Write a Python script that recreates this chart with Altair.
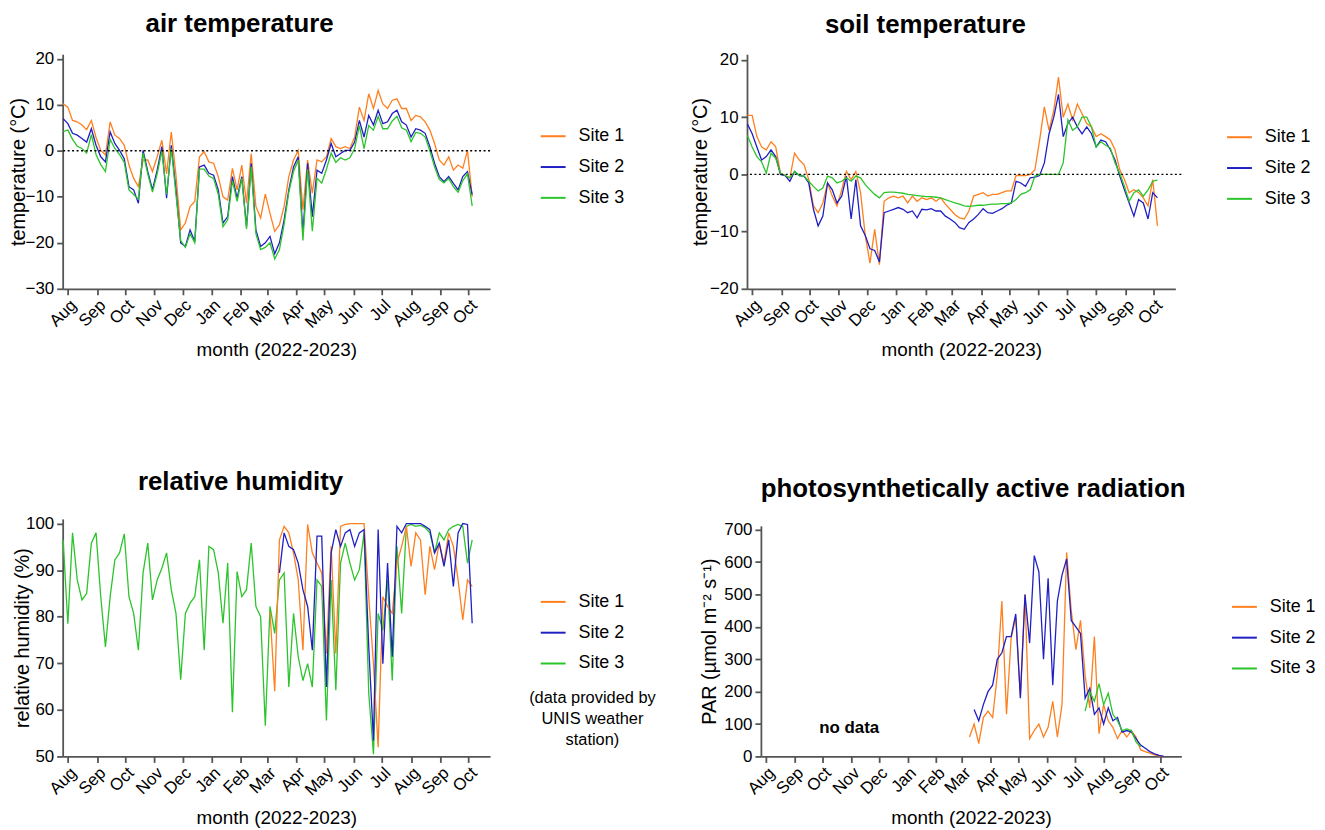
import altair as alt
import pandas as pd

SITES = ["Site 1", "Site 2", "Site 3"]
SITE_COLORS = ["#FF7F1E", "#1F1FC4", "#2BC42B"]

# one reading every 5 days, the first one on 27 Jul 2022 (88 readings, last on 5 Oct 2023)
FIRST_DAY = "2022-07-27"
N_READINGS = 88

# air temperature (°C)
AIR_SITE1 = [10.2, 9.5, 6.6, 6.3, 5.6, 4.6, 6.6, 2.9, 0.1, -0.9,
             6.3, 3.4, 2.7, 1.2, -3.1, -6.0, -7.8, -2.0, -2.0, -4.5,
             -1.3, 2.3, -5.0, 4.1, -5.3, -17.2, -15.7, -12.1, -11.0, -1.3,
             -0.2, -2.4, -2.7, -5.6, -10.0, -10.7, -3.8, -8.5, -3.1, -11.4,
             -0.6, -12.1, -14.6, -9.4, -13.6, -17.5, -16.1, -12.1, -5.6, -2.0,
             0.1, -12.8, -2.0, -9.2, -2.0, -2.4, -1.3, 2.7, 0.9, 0.5,
             0.9, 0.5, 3.0, 9.5, 6.6, 12.4, 9.2, 13.1, 10.2, 9.2,
             11.0, 11.3, 9.2, 9.2, 6.6, 7.7, 7.4, 6.3, 4.5, 1.6,
             -2.0, -3.1, -1.3, -4.2, -3.1, -3.8, 0.1, -10.0]
AIR_SITE2 = [7.0, 5.9, 3.8, 3.4, 2.7, 1.9, 4.8, 1.2, -1.3, -2.4,
             4.1, 1.6, 0.1, -1.7, -7.8, -8.5, -11.4, 0.1, -4.5, -8.5,
             -4.2, 0.9, -10.3, 1.2, -8.5, -20.0, -20.8, -17.2, -19.7, -3.5,
             -3.1, -4.9, -5.3, -8.5, -15.7, -14.3, -5.6, -10.3, -5.6, -16.5,
             -2.7, -17.2, -20.8, -20.0, -18.6, -22.4, -20.0, -15.0, -8.5, -3.5,
             -1.3, -17.9, -2.7, -14.3, -4.2, -4.9, -2.0, 1.6, -1.3, -0.6,
             0.1, 0.1, 1.9, 6.6, 3.0, 7.7, 5.6, 8.8, 5.9, 6.3,
             8.1, 8.8, 6.3, 5.6, 3.0, 4.8, 4.5, 3.8, 0.9, -2.7,
             -5.6, -6.7, -5.6, -7.1, -8.5, -5.6, -4.5, -9.5]
AIR_SITE3 = [4.2, 4.5, 2.5, 1.0, 0.5, -0.5, 3.5, -0.8, -3.0, -4.5,
             2.5, 0.5, -0.8, -2.5, -8.5, -9.5, -10.5, -0.5, -5.0, -9.0,
             -5.0, 0.0, -9.5, 0.5, -9.5, -19.5, -21.0, -18.0, -20.0, -4.0,
             -4.0, -5.5, -6.0, -9.5, -16.5, -15.0, -6.5, -11.0, -6.0, -17.0,
             -3.5, -18.0, -21.5, -21.0, -20.0, -23.5, -21.5, -16.0, -9.0, -4.5,
             -2.0, -19.5, -4.0, -17.5, -6.0, -7.0, -4.0, -0.5, -2.5, -1.5,
             -2.0, -1.5, 0.5, 5.5, 0.5, 5.5, 4.5, 7.5, 4.8, 4.8,
             6.5, 7.5, 5.0, 4.5, 2.0, 4.0, 3.8, 3.0, 0.0, -3.5,
             -6.2, -7.0, -6.0, -7.8, -9.0, -6.5, -5.0, -12.0]

# soil temperature (°C)
SOIL_SITE1 = [10.3, 10.3, 6.6, 4.8, 4.3, 5.7, 4.8, 0.2, -0.2, -0.6,
              3.7, 2.5, 1.7, -0.9, -5.5, -6.7, -5.0, -1.5, -3.8, -5.5,
              -2.7, 0.5, -0.9, 0.5, -3.2, -10.7, -15.5, -9.6, -15.8, -4.7,
              -4.1, -3.8, -4.1, -3.8, -5.0, -3.8, -4.7, -4.1, -4.4, -4.1,
              -4.7, -4.1, -5.2, -6.1, -7.0, -7.6, -7.8, -6.4, -3.8, -3.5,
              -3.2, -3.8, -3.5, -3.5, -3.2, -2.9, -2.9, -0.2, -0.2, -0.2,
              0.0, 0.8, 6.0, 11.8, 7.7, 11.2, 17.0, 10.0, 12.3, 9.5,
              12.3, 10.6, 8.9, 8.3, 6.6, 7.1, 6.6, 6.0, 4.3, 0.8,
              -0.9, -3.2, -2.7, -3.2, -4.1, -5.5, -0.9, -9.0]
SOIL_SITE2 = [8.8, 7.1, 4.8, 2.5, 3.1, 4.3, 3.1, 0.0, -0.2, -1.2,
              0.5, -0.2, -0.3, -1.5, -6.1, -9.0, -7.3, -1.5, -2.7, -5.0,
              -3.8, -0.3, -7.8, -0.9, -9.0, -10.7, -13.0, -13.3, -15.3, -6.7,
              -6.4, -6.1, -5.8, -6.1, -6.7, -6.4, -7.6, -6.1, -6.2, -6.0,
              -6.4, -6.4, -7.3, -7.8, -8.4, -9.3, -9.6, -8.4, -7.8, -7.0,
              -6.0, -6.7, -6.8, -6.4, -6.0, -5.4, -5.0, -1.2, -1.5, -2.1,
              -0.6, -0.5, -0.2, 2.0, 7.1, 10.0, 14.0, 6.6, 8.9, 10.0,
              8.3, 7.1, 8.3, 7.1, 4.8, 6.0, 5.7, 4.3, 2.5, -0.3,
              -2.7, -5.0, -7.3, -4.4, -5.0, -7.8, -3.2, -4.1]
SOIL_SITE3 = [6.8, 4.8, 3.1, 2.2, 0.2, 3.7, 2.8, 0.2, -0.2, -0.6,
              0.5, -0.2, -0.3, -1.2, -2.1, -2.9, -2.4, -0.3, -0.6, -1.5,
              -1.2, -0.6, -1.2, -0.3, -0.6, -1.8, -2.7, -3.5, -4.1, -3.2,
              -3.1, -3.1, -3.2, -3.3, -3.5, -3.6, -3.7, -3.8, -3.9, -3.9,
              -4.0, -4.1, -4.4, -4.7, -5.0, -5.2, -5.5, -5.6, -5.5, -5.4,
              -5.4, -5.3, -5.2, -5.2, -5.1, -5.1, -5.0, -4.4, -3.5, -3.2,
              -2.7, -0.3, 0.0, 0.0, 0.0, 0.0, 0.0, 2.0, 9.5, 7.7,
              8.3, 10.0, 10.0, 8.3, 4.8, 5.7, 5.1, 4.6, 2.0, 0.2,
              -2.1, -4.7, -3.2, -2.7, -3.8, -2.7, -1.2, -1.0]

# relative humidity (%); sites 1 and 2 start later (index of first reading)
RH_SITE1_START = 44
RH_SITE1 = [81.0, 64.0, 96.5, 99.4, 98.0, 93.7,
            87.9, 72.8, 99.8, 93.7, 91.5, 89.4, 72.1, 95.1, 72.1, 99.4,
            99.8, 100.0, 100.0, 100.0, 100.0, 84.3, 69.9, 52.0, 84.3, 82.2,
            80.7, 91.5, 95.1, 99.4, 90.8, 98.0, 96.5, 84.7, 95.1, 90.1,
            95.8, 91.5, 98.0, 95.1, 87.9, 79.3, 87.9, 86.5]
RH_SITE2_START = 46
RH_SITE2 = [89.4, 98.0, 95.1, 94.4,
            91.5, 85.8, 82.2, 72.8, 97.3, 97.3, 64.9, 93.7, 98.7, 95.1,
            98.0, 98.7, 95.1, 98.0, 98.7, 73.5, 53.4, 98.7, 69.9, 91.5,
            71.4, 99.4, 98.0, 100.0, 100.0, 100.0, 100.0, 99.4, 98.7, 93.7,
            95.8, 90.8, 96.5, 86.5, 98.0, 100.0, 99.8, 78.6]
RH_SITE3 = [96.5, 78.5, 98.0, 87.9, 83.6, 85.0, 95.8, 98.0, 84.3, 73.5,
            84.3, 92.2, 93.7, 97.8, 84.3, 80.7, 72.8, 89.4, 95.8, 83.6,
            87.9, 90.4, 93.7, 85.8, 80.7, 66.5, 80.7, 82.9, 84.3, 92.2,
            72.8, 95.1, 94.4, 89.4, 78.6, 91.5, 59.5, 89.7, 84.3, 85.8,
            95.8, 82.2, 80.0, 56.6, 82.2, 76.4, 87.9, 89.4, 64.9, 80.7,
            71.4, 66.3, 69.9, 64.9, 87.9, 86.5, 57.7, 87.9, 64.2, 91.5,
            95.8, 91.5, 87.9, 90.1, 98.0, 63.5, 50.5, 80.7, 77.1, 87.9,
            66.3, 95.1, 80.7, 99.4, 99.8, 99.4, 99.6, 99.1, 98.0, 93.7,
            98.0, 96.5, 98.7, 99.4, 99.8, 99.4, 91.5, 96.5]

# photosynthetically active radiation (µmol m-2 s-1)
PAR_SITE1_START = 45
PAR_SITE1 = [60, 100, 40, 120, 140,
             120, 250, 480, 130, 365, 430, 185, 500, 55, 80,
             100, 60, 90, 170, 60, 160, 630, 450, 330, 420,
             250, 150, 370, 70, 160, 110, 90, 55, 80, 60,
             80, 60, 20, 15, 10, 5, 2, 0]
PAR_SITE2_START = 46
PAR_SITE2 = [145, 110, 160, 200,
             220, 300, 320, 370, 370, 440, 180, 500, 350, 620,
             570, 300, 550, 220, 480, 560, 610, 420, 400, 380,
             180, 210, 130, 150, 100, 150, 110, 120, 75, 80,
             75, 55, 35, 25, 15, 8, 3, 0]
PAR_SITE3_START = 70
PAR_SITE3 = [140, 200, 170, 225, 160, 195, 130, 110, 80, 85, 80, 45, 30]

ZERO_LINE = [0]
NO_DATA_AT = ["2022-10-30"]
NO_DATA_LEVEL = [88]
RH_NOTE = ["(data provided by", "UNIS weather", "station)"]

FONT = "Liberation Sans"
AXIS_GREY = "#555555"

days = pd.date_range(FIRST_DAY, periods=N_READINGS, freq="5D").strftime("%Y-%m-%d")


def frame(series):
    rows = []
    for site, (start, values) in series.items():
        assert start + len(values) <= N_READINGS, site
        for d, v in zip(days[start:], values):
            rows.append({"date": d, "site": site, "value": v})
    return pd.DataFrame(rows)


air = frame({"Site 1": (0, AIR_SITE1), "Site 2": (0, AIR_SITE2), "Site 3": (0, AIR_SITE3)})
soil = frame({"Site 1": (0, SOIL_SITE1), "Site 2": (0, SOIL_SITE2), "Site 3": (0, SOIL_SITE3)})
rh = frame({"Site 1": (RH_SITE1_START, RH_SITE1), "Site 2": (RH_SITE2_START, RH_SITE2),
            "Site 3": (0, RH_SITE3)})
par = frame({"Site 1": (PAR_SITE1_START, PAR_SITE1), "Site 2": (PAR_SITE2_START, PAR_SITE2),
             "Site 3": (PAR_SITE3_START, PAR_SITE3)})

X_START = alt.DateTime(year=2022, month=7, date=26, hours=12, utc=True)
X_END = alt.DateTime(year=2023, month=10, date=24, utc=True)


def panel(df, order, title, y_title, y_domain, y_ticks, x_range,
          legend_xy, title_dx, title_offset, y_title_pad, y_range=None, y_offset=0):
    x = alt.X("date:T", title="month (2022-2023)",
              scale=alt.Scale(type="utc", domain=[X_START, X_END], range=x_range),
              axis=alt.Axis(format="%b", tickCount="month", labelAngle=-45,
                            labelOverlap=False, labelFlush=False, titlePadding=10))
    y_scale = dict(domain=y_domain, nice=False, zero=False)
    if y_range is not None:
        y_scale["range"] = y_range
    y = alt.Y("value:Q", title=y_title, scale=alt.Scale(**y_scale),
              axis=alt.Axis(values=y_ticks, titlePadding=y_title_pad, offset=y_offset))
    color = alt.Color("site:N", scale=alt.Scale(domain=SITES, range=SITE_COLORS),
                      legend=alt.Legend(orient="none", legendX=legend_xy[0],
                                        legendY=legend_xy[1], title=None))
    layers = [
        alt.Chart(df).transform_filter(alt.datum.site == s)
        .mark_line(strokeWidth=1.3).encode(x=x, y=y, color=color)
        for s in order
    ]
    return layers, x, y, alt.TitleParams(title, dx=title_dx, offset=title_offset, frame="group")


# air temperature
layers, x, y, t = panel(air, SITES, "air temperature", "temperature (°C)",
                        [-30, 21], [-30, -20, -10, 0, 10, 20], [0, 430],
                        (480, 69), -37, 13, -3)
zero = alt.Chart(pd.DataFrame({"value": ZERO_LINE})).mark_rule(
    color="black", strokeDash=[2, 2.5], strokeWidth=1.4).encode(y=y)
air_chart = alt.layer(*layers, zero).properties(width=430, height=236, title=t)

# soil temperature
layers, x, y, t = panel(soil, SITES, "soil temperature", "temperature (°C)",
                        [-20, 21], [-20, -10, 0, 10, 20], [0, 431],
                        (482, 70), -39, 13, -1)
zero = alt.Chart(pd.DataFrame({"value": ZERO_LINE})).mark_rule(
    color="black", strokeDash=[2, 2.5], strokeWidth=1.4).encode(y=y)
soil_chart = alt.layer(*layers, zero).properties(width=437, height=236, title=t)

# relative humidity
layers, x, y, t = panel(rh, ["Site 3", "Site 1", "Site 2"], "relative humidity",
                        "relative humidity (%)", [50, 101], [50, 60, 70, 80, 90, 100],
                        [0, 430], (480, 70), -36, 20, -7)
note = alt.Chart(pd.DataFrame({"value": ZERO_LINE})).mark_text(
    text=RH_NOTE, font=FONT, fontSize=16.5, lineHeight=21, align="center",
    baseline="middle", color="black").encode(x=alt.value(533), y=alt.value(180))
rh_chart = alt.layer(*layers, note).properties(width=430, height=239, title=t)

# photosynthetically active radiation
layers, x, y, t = panel(par, SITES, "photosynthetically active radiation",
                        "PAR (µmol m⁻² s⁻¹)", [0, 712], list(range(0, 701, 100)),
                        [14, 437], (487, 75), 9, 17, 4,
                        y_range=[239, 7], y_offset=-14)
no_data = alt.Chart(pd.DataFrame({"date": NO_DATA_AT, "value": NO_DATA_LEVEL})).mark_text(
    text="no data", font=FONT, fontSize=17, fontWeight="bold", color="black").encode(x=x, y=y)
par_chart = alt.layer(*layers, no_data).properties(width=437, height=239, title=t)

chart = alt.concat(
    air_chart, soil_chart, rh_chart, par_chart,
    columns=2, spacing={"row": 231.5, "column": 258.5}, bounds="flush", align="each",
).resolve_scale(
    x="independent", y="independent", color="independent"
).resolve_legend(
    color="independent"
).properties(
    padding={"left": 0, "top": 0, "right": 0, "bottom": 0}
).configure(
    font=FONT
).configure_view(
    stroke=None
).configure_axis(
    labelFont=FONT, labelFontSize=17, labelColor="black",
    titleFont=FONT, titleFontSize=20, titleFontWeight="normal", titleColor="black",
    domainColor=AXIS_GREY, domainWidth=1.8, tickColor=AXIS_GREY, tickWidth=1.8,
    tickSize=6, labelPadding=3, grid=False,
).configure_axisX(
    labelPadding=2, titleFontSize=19
).configure_title(
    font=FONT, fontSize=26, fontWeight="bold", color="black", anchor="middle"
).configure_legend(
    labelFont=FONT, labelFontSize=18, labelColor="black", symbolType="stroke",
    symbolSize=625, symbolStrokeWidth=2, labelOffset=12, rowPadding=8, padding=0,
)

chart.save("out.html", embed_options={"renderer": "svg", "actions": False})
